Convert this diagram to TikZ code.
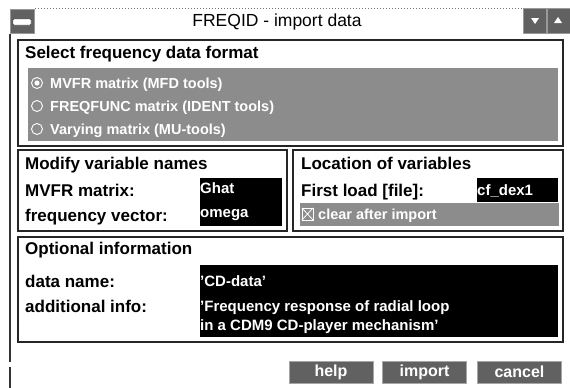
\documentclass[tikz,border=0pt]{standalone}
\usepackage{fontspec}
\setmainfont{Liberation Sans}
\begin{document}
\begin{tikzpicture}[x=1pt,y=-1pt,
    frame/.style={draw=black!85,line width=1.2pt},
    dither/.style={fill=black!45},
    winbtn/.style={fill=black!62,draw=black!40,line width=0.6pt},
    lbl/.style={anchor=base west,inner sep=0pt,font=\fontsize{17}{20}\selectfont\bfseries},
    opt/.style={anchor=base west,inner sep=0pt,text=white,font=\fontsize{14.5}{17}\selectfont\bfseries},
    val/.style={anchor=base west,inner sep=0pt,text=white,font=\fontsize{15}{18}\selectfont\bfseries},
    pushbtn/.style={fill=black!62,draw=black!35,line width=0.6pt,text=white,
      minimum width=84pt,minimum height=22pt,inner sep=0pt,
      font=\fontsize{16}{18}\selectfont\bfseries},
  ]
  \useasboundingbox (0,0) rectangle (570,388);
  % title bar
  \draw[black!55,dotted,line width=1pt] (35,8) -- (523,8);
  \filldraw[winbtn] (10,9) rectangle (34,33);
  \filldraw[fill=white,draw=black!70,rounded corners=1pt] (13,19) rectangle (31,25);
  \filldraw[winbtn] (523,8) rectangle (546,33);
  \filldraw[winbtn] (547,8) rectangle (570,33);
  \fill[white] (531,18) -- (539,18) -- (535,24) -- cycle;
  \fill[white] (554,23) -- (562,23) -- (558,17) -- cycle;
  \node[anchor=base,inner sep=0pt,font=\fontsize{17.5}{20}\selectfont] (title) at (277,27) {FREQID - import data};
  \draw[black!80,line width=1.2pt] (10,34) -- (10,362);
  \draw[black!80,line width=1.2pt] (10,367) -- (10,388);

  % data format
  \draw[frame] (18,40) rectangle (563,146);
  \fill[dither] (28,68) rectangle (558,141);
  \node[lbl] (selhead) at (25,58) {Select frequency data format};
  \draw[white,line width=0.9pt] (37,83) circle (5.5);
  \fill[white] (37,83) circle (2.6);
  \draw[white,line width=0.9pt] (37,106) circle (5.5);
  \draw[white,line width=0.9pt] (37,129) circle (5.5);
  \node[opt] (optmvfr) at (50,88) {MVFR matrix (MFD tools)};
  \node[opt] (optfreq) at (50,111) {FREQFUNC matrix (IDENT tools)};
  \node[opt] (optvary) at (50,134) {Varying matrix (MU-tools)};

  % variable names
  \draw[frame] (18,150) rectangle (287,231);
  \node[lbl] (modhead) at (25,169) {Modify variable names};
  \node[lbl] (lblmvfr) at (25,196) {MVFR matrix:};
  \node[lbl] (lblfreq) at (25,221) {frequency vector:};
  \fill[black] (200,178) rectangle (282,226);
  \node[val] (valghat) at (200,193) {Ghat};
  \node[val] (valomega) at (200,217) {omega};

  % location
  \draw[frame] (293,150) rectangle (563,231);
  \node[lbl] (lochead) at (301,169) {Location of variables};
  \node[lbl] (lblload) at (301,196) {First load [file]:};
  \fill[black] (477,178) rectangle (558,202);
  \node[val] (valload) at (477,195) {cf\_dex1};
  \fill[dither] (300,203) rectangle (559,226);
  \draw[white,line width=0.8pt] (302,208) rectangle (313,220);
  \draw[white,line width=0.8pt] (302,208) -- (313,220) (313,208) -- (302,220);
  \node[opt] (lblclear) at (318,219) {clear after import};

  % optional info
  \draw[frame] (18,237) rectangle (563,342);
  \node[lbl] (infohead) at (25,254) {Optional information};
  \node[lbl] (lblname) at (25,287) {data name:};
  \node[lbl] (lblinfo) at (25,312) {additional info:};
  \fill[black] (200,265) rectangle (558,337);
  \node[val] (valname) at (200,286) {'CD-data'};
  \node[val] (valinfo) at (200,311) {'Frequency response of radial loop};
  \node[val] (valinfob) at (200,330) {in a CDM9 CD-player mechanism'};

  % buttons
  \node[pushbtn] (help) at (331,372) {help};
  \node[pushbtn] (import) at (424.5,372) {import};
  \node[pushbtn] (cancel) at (519.5,372) {cancel};
\end{tikzpicture}
\end{document}
